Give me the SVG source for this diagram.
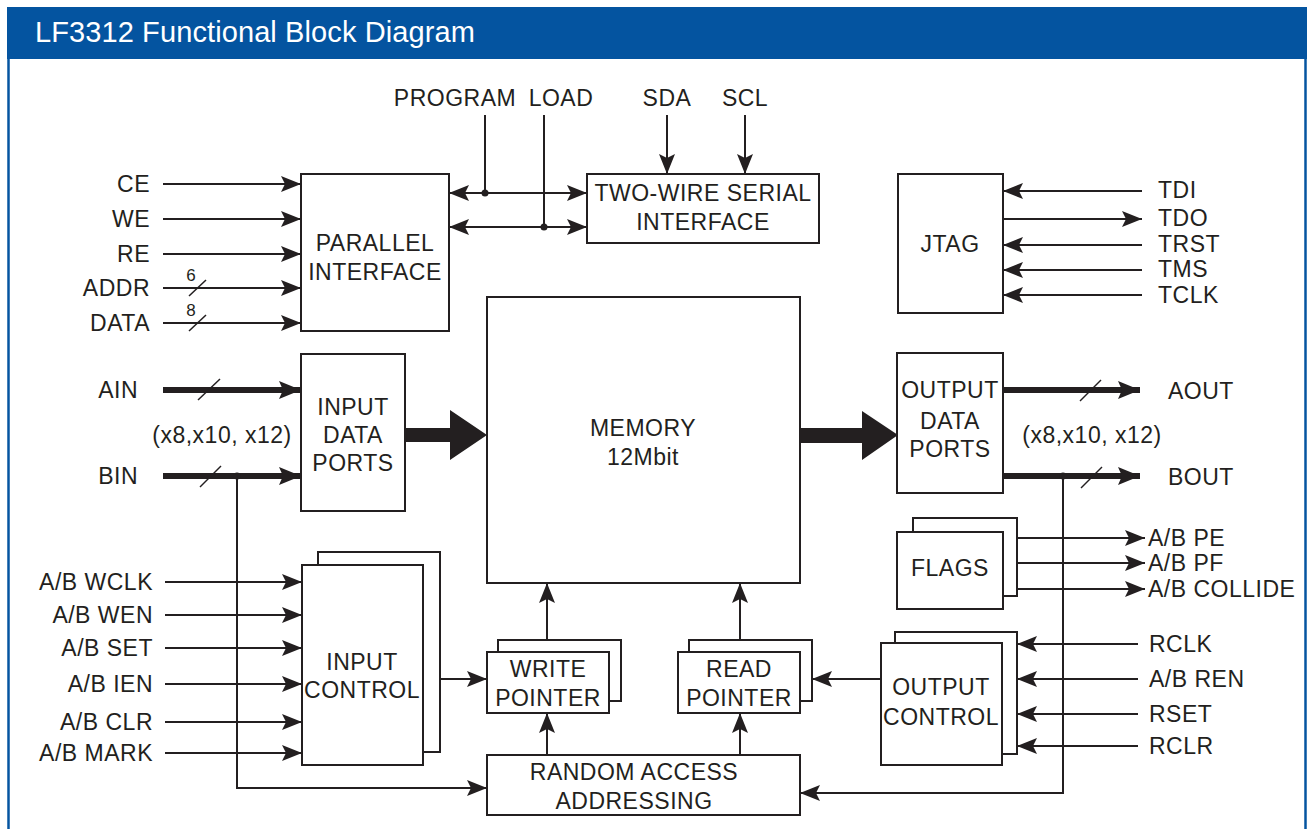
<svg xmlns="http://www.w3.org/2000/svg" width="1307" height="829" viewBox="0 0 1307 829">
<style>
  text { font-family: "Liberation Sans", Arial, sans-serif; font-size: 23px; letter-spacing: 0.5px; fill: #231f20; }
  .c { text-anchor: middle; }
  .r { text-anchor: end; }
  .small { font-size: 17px; letter-spacing: 0; }
  .box { fill: #fff; stroke: #231f20; stroke-width: 2; }
  .ln { fill: none; stroke: #231f20; stroke-width: 2; }
  .thick { fill: none; stroke: #231f20; stroke-width: 6; }
  .arr { marker-end: url(#ah); }
  .dbl { marker-end: url(#ah); marker-start: url(#ahs); }
  .tarr { marker-end: url(#aht); }
  .slash { stroke: #231f20; stroke-width: 1.5; }
  .dot { fill: #231f20; }
  .big { fill: #231f20; }
</style>
<defs>
  <marker id="ah" markerUnits="userSpaceOnUse" markerWidth="20" markerHeight="16" viewBox="0 0 20 16" refX="20" refY="8" orient="auto">
    <path d="M0,0 L20,8 L0,16 L4,8 Z" fill="#231f20"/>
  </marker>
  <marker id="ahs" markerUnits="userSpaceOnUse" markerWidth="20" markerHeight="16" viewBox="0 0 20 16" refX="20" refY="8" orient="auto-start-reverse">
    <path d="M0,0 L20,8 L0,16 L4,8 Z" fill="#231f20"/>
  </marker>
  <marker id="aht" markerUnits="userSpaceOnUse" markerWidth="22" markerHeight="18" viewBox="0 0 22 18" refX="22" refY="9" orient="auto">
    <path d="M0,0 L22,9 L0,18 L4,9 Z" fill="#231f20"/>
  </marker>
</defs>

<g id="frame">
  <rect x="7" y="7" width="1300" height="52" fill="#0454a0"/>
  <line x1="8.5" y1="59" x2="8.5" y2="829" stroke="#0454a0" stroke-width="2.5"/>
  <line x1="1305.5" y1="59" x2="1305.5" y2="829" stroke="#0454a0" stroke-width="2.5"/>
  <text x="35" y="42" style="font-size:29px;letter-spacing:0.1px;fill:#fff">LF3312 Functional Block Diagram</text>
</g>

<g id="connectors">
  <!-- parallel interface inputs -->
  <line class="ln arr" x1="163" y1="184" x2="301" y2="184"/>
  <line class="ln arr" x1="163" y1="219" x2="301" y2="219"/>
  <line class="ln arr" x1="163" y1="254" x2="301" y2="254"/>
  <line class="ln arr" x1="163" y1="288" x2="301" y2="288"/>
  <line class="ln arr" x1="163" y1="323" x2="301" y2="323"/>
  <line class="slash" x1="189" y1="296" x2="206" y2="280"/>
  <line class="slash" x1="189" y1="331" x2="206" y2="315"/>
  <!-- parallel <-> two-wire -->
  <line class="ln dbl" x1="449" y1="193" x2="587" y2="193"/>
  <line class="ln dbl" x1="449" y1="227" x2="587" y2="227"/>
  <line class="ln" x1="485" y1="115" x2="485" y2="193"/>
  <line class="ln" x1="544" y1="115" x2="544" y2="227"/>
  <circle class="dot" cx="485" cy="193" r="3.5"/>
  <circle class="dot" cx="544" cy="227" r="3.5"/>
  <line class="ln arr" x1="667" y1="115" x2="667" y2="174"/>
  <line class="ln arr" x1="745" y1="115" x2="745" y2="174"/>
  <!-- JTAG -->
  <line class="ln arr" x1="1142" y1="191" x2="1003" y2="191"/>
  <line class="ln arr" x1="1003" y1="219" x2="1142" y2="219"/>
  <line class="ln arr" x1="1142" y1="245" x2="1003" y2="245"/>
  <line class="ln arr" x1="1142" y1="270" x2="1003" y2="270"/>
  <line class="ln arr" x1="1142" y1="295" x2="1003" y2="295"/>
  <!-- data in -->
  <line class="thick tarr" x1="163" y1="390" x2="301" y2="390"/>
  <line class="thick tarr" x1="163" y1="476" x2="301" y2="476"/>
  <line class="slash" x1="198" y1="400" x2="220" y2="379"/>
  <line class="slash" x1="200" y1="487" x2="221" y2="466"/>
  <circle class="dot" cx="237" cy="476" r="3.5"/>
  <polyline class="ln arr" points="237,476 237,788 487,788"/>
  <!-- big arrows -->
  <polygon class="big" points="405,428 450,428 450,410 487,435 450,460 450,442 405,442"/>
  <polygon class="big" points="800,428 862,428 862,411 898,435 862,460 862,443 800,443"/>
  <!-- data out -->
  <line class="thick tarr" x1="1003" y1="390" x2="1140" y2="390"/>
  <line class="thick tarr" x1="1003" y1="476" x2="1140" y2="476"/>
  <line class="slash" x1="1080" y1="401" x2="1101" y2="380"/>
  <line class="slash" x1="1081" y1="488" x2="1102" y2="467"/>
  <circle class="dot" cx="1063" cy="476" r="3.5"/>
  <polyline class="ln arr" points="1063,476 1063,793 800,793"/>
  <!-- flags -->
  <line class="ln arr" x1="1017" y1="538" x2="1145" y2="538"/>
  <line class="ln arr" x1="1017" y1="563" x2="1145" y2="563"/>
  <line class="ln arr" x1="1017" y1="589" x2="1145" y2="589"/>
  <!-- input control -->
  <line class="ln arr" x1="165" y1="582" x2="302" y2="582"/>
  <line class="ln arr" x1="165" y1="615" x2="302" y2="615"/>
  <line class="ln arr" x1="165" y1="648" x2="302" y2="648"/>
  <line class="ln arr" x1="165" y1="684" x2="302" y2="684"/>
  <line class="ln arr" x1="165" y1="722" x2="302" y2="722"/>
  <line class="ln arr" x1="165" y1="753" x2="302" y2="753"/>
  <line class="ln arr" x1="440" y1="679" x2="487" y2="679"/>
  <!-- pointers -->
  <line class="ln arr" x1="547" y1="640" x2="547" y2="583"/>
  <line class="ln arr" x1="547" y1="755" x2="547" y2="713"/>
  <line class="ln arr" x1="740" y1="640" x2="740" y2="583"/>
  <line class="ln arr" x1="740" y1="755" x2="740" y2="713"/>
  <line class="ln arr" x1="881" y1="679" x2="812" y2="679"/>
  <!-- output control -->
  <line class="ln arr" x1="1138" y1="644" x2="1017" y2="644"/>
  <line class="ln arr" x1="1138" y1="679" x2="1017" y2="679"/>
  <line class="ln arr" x1="1138" y1="714" x2="1017" y2="714"/>
  <line class="ln arr" x1="1138" y1="746" x2="1017" y2="746"/>
</g>

<g id="labels">
  <text class="r" x="150" y="192">CE</text>
  <text class="r" x="150" y="227">WE</text>
  <text class="r" x="150" y="262">RE</text>
  <text class="r" x="150" y="296">ADDR</text>
  <text class="r" x="150" y="331">DATA</text>
  <text class="c small" x="191" y="281">6</text>
  <text class="c small" x="191" y="316">8</text>
  <text class="c" x="455" y="106">PROGRAM</text>
  <text class="c" x="561" y="106">LOAD</text>
  <text class="c" x="667" y="106">SDA</text>
  <text class="c" x="745" y="106">SCL</text>
  <text x="1158" y="198">TDI</text>
  <text x="1158" y="226">TDO</text>
  <text x="1158" y="252">TRST</text>
  <text x="1158" y="277">TMS</text>
  <text x="1158" y="303">TCLK</text>
  <text class="r" x="138" y="398">AIN</text>
  <text class="r" x="138" y="484">BIN</text>
  <text class="c" x="222" y="443">(x8,x10, x12)</text>
  <text x="1168" y="399">AOUT</text>
  <text x="1168" y="485">BOUT</text>
  <text class="c" x="1092" y="443">(x8,x10, x12)</text>
  <text x="1148" y="546">A/B PE</text>
  <text x="1148" y="571">A/B PF</text>
  <text x="1148" y="597">A/B COLLIDE</text>
  <text class="r" x="153" y="590">A/B WCLK</text>
  <text class="r" x="153" y="623">A/B WEN</text>
  <text class="r" x="153" y="656">A/B SET</text>
  <text class="r" x="153" y="692">A/B IEN</text>
  <text class="r" x="153" y="730">A/B CLR</text>
  <text class="r" x="153" y="761">A/B MARK</text>
  <text x="1149" y="652">RCLK</text>
  <text x="1149" y="687">A/B REN</text>
  <text x="1149" y="722">RSET</text>
  <text x="1149" y="754">RCLR</text>
</g>

<g id="parallel-interface">
  <rect class="box" x="301" y="174" width="148" height="157"/>
  <text class="c" x="375" y="251">PARALLEL</text>
  <text class="c" x="375" y="280">INTERFACE</text>
</g>
<g id="two-wire-serial-interface">
  <rect class="box" x="587" y="174" width="232" height="69"/>
  <text class="c" x="703" y="201">TWO-WIRE SERIAL</text>
  <text class="c" x="703" y="230">INTERFACE</text>
</g>
<g id="jtag">
  <rect class="box" x="898" y="174" width="105" height="139"/>
  <text class="c" x="950" y="252">JTAG</text>
</g>
<g id="input-data-ports">
  <rect class="box" x="301" y="354" width="104" height="157"/>
  <text class="c" x="353" y="415">INPUT</text>
  <text class="c" x="353" y="443">DATA</text>
  <text class="c" x="353" y="471">PORTS</text>
</g>
<g id="memory">
  <rect class="box" x="487" y="297" width="313" height="286"/>
  <text class="c" x="643" y="436">MEMORY</text>
  <text class="c" x="643" y="465">12Mbit</text>
</g>
<g id="output-data-ports">
  <rect class="box" x="897" y="353" width="106" height="140"/>
  <text class="c" x="950" y="398">OUTPUT</text>
  <text class="c" x="950" y="429">DATA</text>
  <text class="c" x="950" y="457">PORTS</text>
</g>
<g id="flags">
  <rect class="box" x="913" y="518" width="104" height="78"/>
  <rect class="box" x="897" y="532" width="106" height="77"/>
  <text class="c" x="950" y="576">FLAGS</text>
</g>
<g id="input-control">
  <rect class="box" x="318" y="552" width="122" height="200"/>
  <rect class="box" x="302" y="565" width="121" height="200"/>
  <text class="c" x="362" y="670">INPUT</text>
  <text class="c" x="362" y="698">CONTROL</text>
</g>
<g id="write-pointer">
  <rect class="box" x="498" y="640" width="123" height="61"/>
  <rect class="box" x="487" y="652" width="122" height="61"/>
  <text class="c" x="548" y="677">WRITE</text>
  <text class="c" x="548" y="706">POINTER</text>
</g>
<g id="read-pointer">
  <rect class="box" x="689" y="640" width="123" height="61"/>
  <rect class="box" x="678" y="652" width="122" height="61"/>
  <text class="c" x="739" y="677">READ</text>
  <text class="c" x="739" y="706">POINTER</text>
</g>
<g id="output-control">
  <rect class="box" x="895" y="632" width="122" height="122"/>
  <rect class="box" x="881" y="643" width="121" height="122"/>
  <text class="c" x="941" y="695">OUTPUT</text>
  <text class="c" x="941" y="725">CONTROL</text>
</g>
<g id="random-access-addressing">
  <rect class="box" x="487" y="755" width="313" height="60"/>
  <text class="c" x="634" y="780">RANDOM ACCESS</text>
  <text class="c" x="634" y="809">ADDRESSING</text>
</g>
</svg>
